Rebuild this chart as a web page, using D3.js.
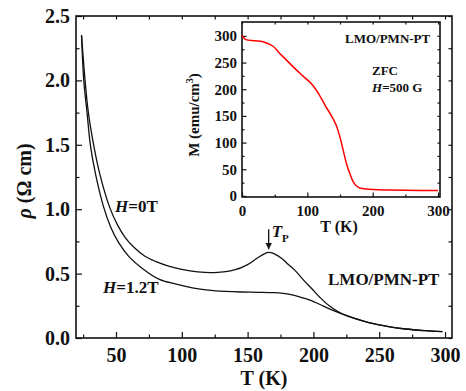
<!DOCTYPE html>
<html>
<head>
<meta charset="utf-8">
<script src="https://cdn.jsdelivr.net/npm/d3@7"></script>
<style>
  body { margin: 0; background: #fff; }
  text { font-family: "Liberation Serif", "Times New Roman", serif; font-weight: bold; fill: #111; }
  .domain { display: none; }
</style>
</head>
<body>
<div id="chart"></div>
<script>
var svgWidth = 466;
var svgHeight = 391;

// resistivity vs temperature, H = 0 T
var tempZero = [23.8, 26.5, 29, 33, 38, 45, 51, 57, 64, 72, 80, 90, 100, 112, 125, 140, 150, 158, 163, 166, 170, 176, 181, 186, 192, 199, 205, 212, 220, 231, 243, 256, 270, 285, 298];
var rhoZero = [2.35, 2.0, 1.75, 1.5, 1.26, 1.02, 0.88, 0.78, 0.70, 0.635, 0.595, 0.558, 0.532, 0.513, 0.508, 0.528, 0.57, 0.625, 0.655, 0.665, 0.655, 0.618, 0.57, 0.525, 0.455, 0.38, 0.315, 0.25, 0.198, 0.152, 0.117, 0.09, 0.07, 0.057, 0.049];

// resistivity vs temperature, H = 1.2 T
var tempField = [23.8, 25.5, 28, 30.5, 34.5, 40.5, 46, 52, 60, 70, 83, 95, 108, 120, 133, 145, 158, 170, 177, 183, 190, 198, 205, 213, 222, 231, 243, 256, 270, 285, 298];
var rhoField = [2.35, 2.0, 1.75, 1.5, 1.27, 1.02, 0.86, 0.74, 0.63, 0.54, 0.455, 0.42, 0.39, 0.372, 0.362, 0.357, 0.355, 0.352, 0.346, 0.336, 0.318, 0.292, 0.26, 0.222, 0.186, 0.155, 0.117, 0.09, 0.07, 0.057, 0.049];

// inset: ZFC magnetization
var tempMag = [0, 3, 6, 20, 32, 47, 57, 67, 80, 93, 108, 118, 128, 137, 144, 150, 155, 160, 165, 170, 175, 180, 190, 200, 225, 250, 275, 300];
var magZfc = [301, 296, 293, 291, 289, 281, 268, 256, 240, 225, 208, 190, 168, 150, 133, 110, 85, 60, 42, 27, 19, 15, 13, 12, 11, 10.5, 10, 10];

var peakTemp = 166;

var xTicks = [50, 100, 150, 200, 250, 300];
var xMinor = [25, 75, 125, 175, 225, 275];
var yTicks = [0, 0.5, 1.0, 1.5, 2.0, 2.5];
var yMinor = [0.25, 0.75, 1.25, 1.75, 2.25];
var insetXTicks = [0, 100, 200, 300];
var insetXMinor = [50, 150, 250];
var insetYTicks = [0, 50, 100, 150, 200, 250, 300];
var insetYMinor = [25, 75, 125, 175, 225, 275];

var svg = d3.select("#chart")
  .append("svg")
  .attr("width", svgWidth)
  .attr("height", svgHeight);

// main plot area
var plot = { left: 76, right: 452, top: 16, bottom: 338 };

var xScale = d3.scaleLinear().domain([19.6, 305.3]).range([plot.left, plot.right]);
var yScale = d3.scaleLinear().domain([0, 2.5]).range([plot.bottom, plot.top]);

function drawAxes(g, xs, ys, box, opts) {
  // bottom
  g.append("g")
    .attr("transform", `translate(0, ${box.bottom})`)
    .call(d3.axisBottom(xs).tickValues(opts.xTicks).tickSize(-opts.major).tickPadding(opts.xPad).tickFormat(d3.format("d")))
    .call(a => a.selectAll("text").style("font-size", opts.font + "px"));
  g.append("g")
    .attr("transform", `translate(0, ${box.bottom})`)
    .call(d3.axisBottom(xs).tickValues(opts.xMinor).tickSize(-opts.minor).tickFormat(""));
  // top
  g.append("g")
    .attr("transform", `translate(0, ${box.top})`)
    .call(d3.axisTop(xs).tickValues(opts.xTicks.concat(opts.xMinor)).tickSize(-opts.minor).tickFormat(""));
  // left
  g.append("g")
    .attr("transform", `translate(${box.left}, 0)`)
    .call(d3.axisLeft(ys).tickValues(opts.yTicks).tickSize(-opts.major).tickPadding(opts.yPad).tickFormat(opts.yFormat))
    .call(a => a.selectAll("text").style("font-size", opts.font + "px"));
  g.append("g")
    .attr("transform", `translate(${box.left}, 0)`)
    .call(d3.axisLeft(ys).tickValues(opts.yMinor).tickSize(-opts.minor).tickFormat(""));
  // right
  g.append("g")
    .attr("transform", `translate(${box.right}, 0)`)
    .call(d3.axisRight(ys).tickValues(opts.yTicks.concat(opts.yMinor)).tickSize(-opts.minor).tickFormat(""));

  g.selectAll(".tick line").attr("stroke", "#111").attr("stroke-width", 1.2);

  g.append("rect")
    .attr("x", box.left)
    .attr("y", box.top)
    .attr("width", box.right - box.left)
    .attr("height", box.bottom - box.top)
    .attr("fill", "none")
    .attr("stroke", "#111")
    .attr("stroke-width", 1.6);
}

var mainGroup = svg.append("g");

drawAxes(mainGroup, xScale, yScale, plot, {
  xTicks: xTicks, xMinor: xMinor, yTicks: yTicks, yMinor: yMinor,
  major: 6, minor: 3.5, xPad: 10, yPad: 6, font: 20, yFormat: d3.format(".1f")
});

var line = d3.line()
  .x(d => xScale(d[0]))
  .y(d => yScale(d[1]))
  .curve(d3.curveCatmullRom.alpha(0.5));

mainGroup.append("path")
  .datum(d3.zip(tempZero, rhoZero))
  .attr("d", line)
  .attr("fill", "none")
  .attr("stroke", "#111")
  .attr("stroke-width", 1.3);

mainGroup.append("path")
  .datum(d3.zip(tempField, rhoField))
  .attr("d", line)
  .attr("fill", "none")
  .attr("stroke", "#111")
  .attr("stroke-width", 1.3);

// axis titles
mainGroup.append("text")
  .attr("x", 264)
  .attr("y", 385)
  .attr("text-anchor", "middle")
  .style("font-size", "20px")
  .text("T (K)");

mainGroup.append("text")
  .attr("transform", "translate(31, 181) rotate(-90)")
  .attr("text-anchor", "middle")
  .style("font-size", "20px")
  .html('<tspan font-style="italic">ρ</tspan> (Ω cm)');

// curve labels
mainGroup.append("text")
  .attr("x", 115)
  .attr("y", 212)
  .style("font-size", "17px")
  .html('<tspan font-style="italic">H</tspan>=0T');

mainGroup.append("text")
  .attr("x", 103)
  .attr("y", 293)
  .style("font-size", "17px")
  .html('<tspan font-style="italic">H</tspan>=1.2T');

mainGroup.append("text")
  .attr("x", 328)
  .attr("y", 285)
  .style("font-size", "17px")
  .text("LMO/PMN-PT");

// T_P arrow
var peakRho = rhoZero[tempZero.indexOf(peakTemp)];
svg.append("defs").append("marker")
  .attr("id", "head")
  .attr("viewBox", "0 0 10 10")
  .attr("refX", 10)
  .attr("refY", 5)
  .attr("markerWidth", 5)
  .attr("markerHeight", 5)
  .attr("orient", "auto")
  .append("path")
  .attr("d", "M0,0 L10,5 L0,10 Z")
  .attr("fill", "#111");

mainGroup.append("line")
  .attr("x1", xScale(peakTemp))
  .attr("x2", xScale(peakTemp))
  .attr("y1", yScale(peakRho) - 23)
  .attr("y2", yScale(peakRho) - 3)
  .attr("stroke", "#111")
  .attr("stroke-width", 1.3)
  .attr("marker-end", "url(#head)");

mainGroup.append("text")
  .attr("x", xScale(peakTemp) + 3)
  .attr("y", 237)
  .style("font-size", "17px")
  .html('<tspan font-style="italic">T</tspan><tspan font-size="11px" dy="5">P</tspan>');

// inset
var inset = { left: 242, right: 440, top: 22, bottom: 197 };
var insetX = d3.scaleLinear().domain([0, 303]).range([inset.left, inset.right]);
var insetY = d3.scaleLinear().domain([-2, 326]).range([inset.bottom, inset.top]);

var insetGroup = svg.append("g");

insetGroup.append("rect")
  .attr("x", inset.left)
  .attr("y", inset.top)
  .attr("width", inset.right - inset.left)
  .attr("height", inset.bottom - inset.top)
  .attr("fill", "#fff");

drawAxes(insetGroup, insetX, insetY, inset, {
  xTicks: insetXTicks, xMinor: insetXMinor, yTicks: insetYTicks, yMinor: insetYMinor,
  major: 4.5, minor: 2.5, xPad: 8, yPad: 5, font: 15, yFormat: d3.format("d")
});

insetGroup.append("path")
  .datum(d3.zip(tempMag, magZfc))
  .attr("d", d3.line().x(d => insetX(d[0])).y(d => insetY(d[1])).curve(d3.curveCatmullRom.alpha(0.5)))
  .attr("fill", "none")
  .attr("stroke", "#f00")
  .attr("stroke-width", 1.5);

insetGroup.append("text")
  .attr("x", 339)
  .attr("y", 232)
  .attr("text-anchor", "middle")
  .style("font-size", "16px")
  .text("T (K)");

insetGroup.append("text")
  .attr("transform", "translate(199, 115) rotate(-90)")
  .attr("text-anchor", "middle")
  .style("font-size", "15px")
  .html('M (emu/cm<tspan font-size="10px" dy="-6">3</tspan><tspan dy="6">)</tspan>');

insetGroup.append("text")
  .attr("x", 345)
  .attr("y", 43)
  .style("font-size", "13px")
  .text("LMO/PMN-PT");

insetGroup.append("text")
  .attr("x", 372)
  .attr("y", 75)
  .style("font-size", "13px")
  .text("ZFC");

insetGroup.append("text")
  .attr("x", 372)
  .attr("y", 92)
  .style("font-size", "13px")
  .html('<tspan font-style="italic">H</tspan>=500 G');
</script>
</body>
</html>
